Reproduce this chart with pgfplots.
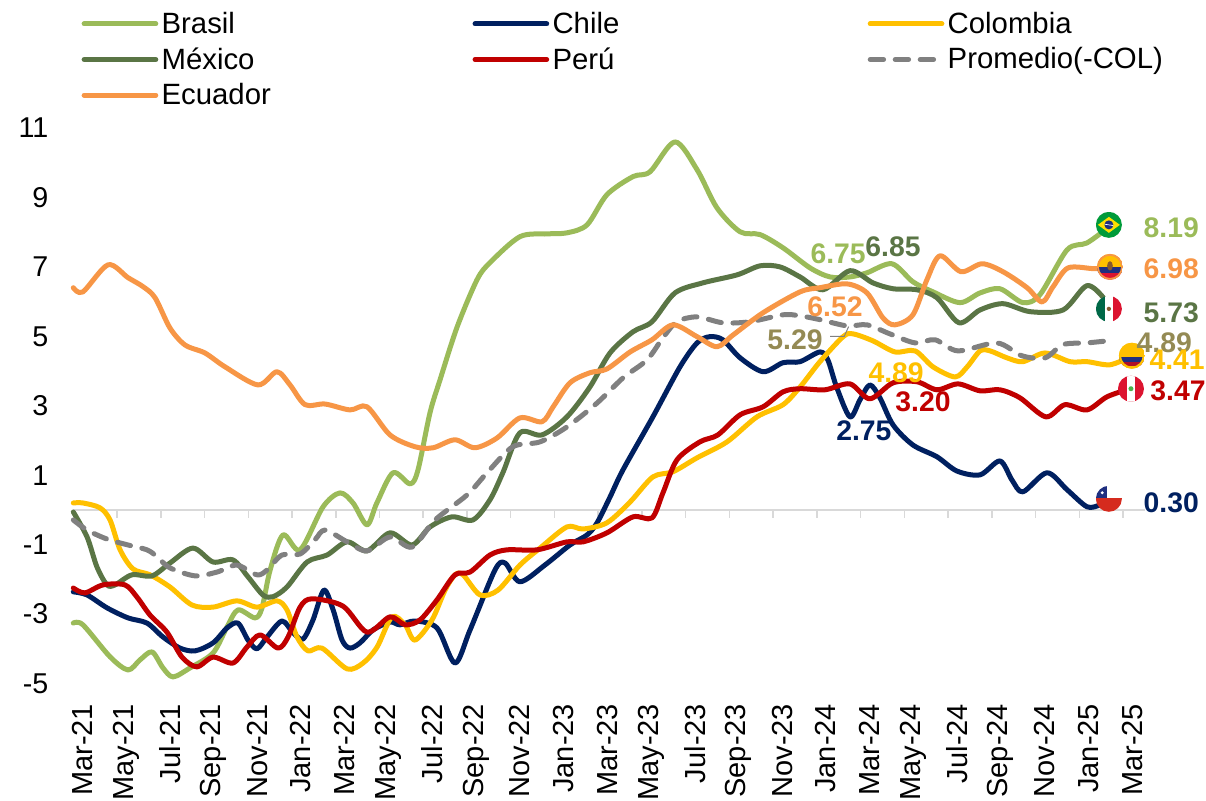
\documentclass[border=0pt]{standalone}
\usepackage{pgfplots}
\pgfplotsset{compat=1.18}
\usepackage{fontspec}
\setmainfont{Liberation Sans}
\definecolor{cBR}{HTML}{9BBB59}
\definecolor{cMX}{HTML}{5A7545}
\definecolor{cEC}{HTML}{F79646}
\definecolor{cCL}{HTML}{002060}
\definecolor{cPE}{HTML}{C00000}
\definecolor{cCO}{HTML}{FFC000}
\definecolor{cAV}{HTML}{808080}
\definecolor{cAVt}{HTML}{948A54}
\definecolor{cAx}{HTML}{D9D9D9}
\definecolor{fGreen}{HTML}{009B3A}
\definecolor{fYellow}{HTML}{FEDF00}
\definecolor{fBlue}{HTML}{1F2F80}
\definecolor{fRed}{HTML}{DC1430}
\definecolor{fMex}{HTML}{006847}
\definecolor{fChile}{HTML}{D52B1E}
\newcommand{\lblfont}{\fontsize{17}{20}\selectfont\bfseries}
\newcommand{\lbl}[4]{\node[text=#1,font=\lblfont,inner sep=0pt] at (axis cs:#2,#3) {#4};}
% flag: drawn after the axis, round a named point, clipped to a circle
\newcommand{\flag}[2]{\begin{scope}[shift={(#1)}]
  \begin{scope}\clip (0pt,0pt) circle (7.8pt); #2 \end{scope}\end{scope}}
\pgfplotsset{base/.style={
  at={(43.98pt,69.9pt)},anchor=south west,scale only axis,
  width=643pt,height=333.3pt,
  xmin=0,xmax=49,ymin=-5,ymax=11,clip=false}}
\begin{document}
\begin{tikzpicture}
\useasboundingbox (0,0) rectangle (723.6pt,480pt);
% zero line with its ticks
\begin{axis}[base,axis x line=middle,axis y line=none,
  xtick={0,2,...,48},xticklabels={},ytick=\empty,
  axis line style={draw=cAx,line width=0.9pt,-},
  x tick style={draw=cAx,line width=0.9pt,yshift=-2.4pt},
  tick align=center,major tick length=4.8pt]
\end{axis}
\begin{axis}[base,
  axis line style={draw=none},tick style={draw=none},major tick length=0pt,
  axis x line*=bottom,axis y line*=left,
  xtick={0,2,...,48},
  xticklabels={Mar-21,May-21,Jul-21,Sep-21,Nov-21,Jan-22,Mar-22,May-22,Jul-22,Sep-22,Nov-22,Jan-23,Mar-23,May-23,Jul-23,Sep-23,Nov-23,Jan-24,Mar-24,May-24,Jul-24,Sep-24,Nov-24,Jan-25,Mar-25},
  xticklabel style={font=\fontsize{17.4}{20}\selectfont,rotate=90,anchor=east,xshift=-8.8pt,yshift=-5.4pt},
  ytick={-5,-3,...,11},
  yticklabel style={font=\fontsize{17.2}{20}\selectfont,/pgf/number format/assume math mode=true,anchor=east,xshift=-11.4pt},
  legend columns=3,
  legend cell align=left,
  legend image code/.code={\draw[#1,line cap=round] (0,0) -- (43pt,0);},
  legend style={draw=none,fill=none,font=\fontsize{17.6}{20}\selectfont,
    at={(axis description cs:0.0,1.0)},anchor=south west,xshift=5pt,yshift=10.6pt,
    inner sep=0pt,outer sep=0pt,row sep=3pt,
    /tikz/column 2/.style={column sep=119pt},
    /tikz/column 4/.style={column sep=147pt}},
  every axis plot/.append style={line width=3pt,smooth,tension=0.5,line join=round,line cap=round}]

\addplot[cBR] coordinates {(0,-3.26)(.44,-3.31)(1.68,-4.23)(2.5,-4.61)(3.05,-4.32)(3.6,-4.09)(4.1,-4.55)(4.56,-4.81)(5.34,-4.55)(6.39,-4.12)(7.03,-3.37)(7.53,-2.88)(8.31,-3.11)(8.63,-2.82)(9,-1.73)(9.59,-.72)(10.37,-1.15)(11.42,.09)(12.19,.49)(12.79,.2)(13.43,-.43)(13.88,.2)(14.62,1.07)(15.4,.75)(15.76,1.15)(16.31,2.8)(16.77,3.75)(17.55,5.27)(18.46,6.63)(19.05,7.12)(20.42,7.87)(21.66,7.95)(22.57,7.98)(23.49,8.21)(24.4,9.08)(25.59,9.6)(26.37,9.74)(27.51,10.6)(28.52,9.8)(29.43,8.7)(30.49,8.01)(31.4,7.93)(32.45,7.55)(33.69,6.97)(34.6,6.71)(35.51,6.71)(36.29,6.83)(37.43,7.09)(38.39,6.57)(39.31,6.28)(40.54,5.97)(41.46,6.25)(42.37,6.37)(43.42,5.97)(44.2,6.2)(45.44,7.49)(46.35,7.69)(47.31,8.13)};
\addlegendentry{Brasil}

\addplot[cCL] coordinates {(0,-2.36)(.63,-2.45)(1.54,-2.82)(2.5,-3.11)(3.37,-3.26)(4.1,-3.66)(4.88,-3.98)(5.57,-4.06)(6.39,-3.83)(7.03,-3.4)(7.53,-3.26)(7.99,-3.75)(8.4,-4)(8.86,-3.66)(9.54,-3.2)(10.05,-3.54)(10.5,-3.72)(10.96,-3.17)(11.46,-2.31)(11.88,-2.88)(12.29,-3.75)(12.65,-3.98)(13.11,-3.83)(13.7,-3.46)(14.48,-3.23)(14.94,-3.31)(15.62,-3.2)(16.63,-3.4)(17.45,-4.41)(18.14,-3.46)(19.28,-1.73)(19.74,-1.53)(20.42,-2.07)(21.56,-1.59)(22.71,-1.01)(23.49,-.72)(23.95,-.37)(24.54,.37)(25.13,1.15)(26.5,2.68)(27.74,4.12)(28.52,4.81)(29.1,4.99)(29.7,4.9)(30.49,4.38)(31.54,3.98)(32.45,4.24)(33.23,4.27)(34.14,4.55)(34.5,4.32)(34.9,3.54)(35.51,2.68)(35.97,3.17)(36.42,3.6)(36.88,3.23)(37.48,2.45)(38.39,1.87)(39.49,1.53)(40.4,1.12)(41.46,1.01)(42.37,1.41)(42.92,.86)(43.42,.52)(44.52,1.07)(45.44,.58)(46.35,.09)(46.95,.14)(47.31,.2)};
\addlegendentry{Chile}

\addplot[cCO] coordinates {(0,.2)(.44,.2)(1.22,.06)(1.68,-.29)(2.14,-1.15)(2.73,-1.7)(3.51,-1.87)(4.42,-2.22)(5.43,-2.74)(6.39,-2.8)(7.48,-2.62)(8.4,-2.8)(9.31,-2.62)(9.77,-2.88)(10.23,-3.66)(10.73,-4.06)(11.37,-3.98)(12.52,-4.58)(13.25,-4.41)(13.89,-3.95)(14.57,-3.08)(15.17,-3.31)(15.62,-3.75)(16.4,-3.17)(17,-2.31)(17.45,-1.87)(17.82,-1.87)(18.6,-2.45)(19.42,-2.31)(20.42,-1.59)(21.34,-1.1)(22.57,-.49)(23.31,-.55)(24.4,-.37)(25.46,.23)(26.5,.95)(27.42,1.1)(28.52,1.5)(29.89,1.96)(31.26,2.68)(32.45,3.03)(33.23,3.54)(34.14,4.27)(35.2,4.99)(35.65,5.07)(36.56,4.87)(37.57,4.55)(38.49,4.58)(39.31,4.12)(40.32,3.83)(40.87,4.12)(41.46,4.58)(41.92,4.58)(42.69,4.38)(43.42,4.27)(44.43,4.52)(45.57,4.27)(46.35,4.27)(47.4,4.18)(48.32,4.41)};
\addlegendentry{Colombia}

\addplot[cMX] coordinates {(0,-.06)(.63,-.78)(1.08,-1.64)(1.54,-2.16)(1.91,-2.16)(2.68,-1.87)(3.6,-1.9)(4.42,-1.53)(5.47,-1.1)(6.39,-1.5)(7.3,-1.44)(7.99,-1.93)(8.67,-2.45)(9.13,-2.5)(9.77,-2.22)(10.69,-1.5)(11.6,-1.3)(12.52,-.92)(13.43,-1.18)(14.48,-.66)(15.49,-1.01)(16.31,-.49)(17.31,-.2)(18.27,-.29)(19.05,.29)(19.64,1.07)(20.42,2.22)(21.43,2.16)(22.57,2.68)(23.62,3.54)(24.54,4.52)(25.59,5.13)(26.46,5.42)(27.51,6.25)(28.79,6.54)(30.35,6.77)(31.4,7.03)(32.31,7)(33.23,6.71)(34.28,6.34)(35.51,6.89)(36.56,6.54)(37.48,6.37)(38.58,6.34)(39.49,6.11)(40.5,5.39)(41.46,5.76)(42.51,5.94)(43.75,5.71)(45.26,5.76)(46.35,6.46)(47.18,6.05)(47.31,5.73)};
\addlegendentry{México}

\addplot[cPE] coordinates {(0,-2.25)(.53,-2.39)(1.36,-2.16)(2.36,-2.16)(2.91,-2.51)(3.51,-3.03)(4.28,-3.52)(4.97,-4.24)(5.65,-4.52)(6.39,-4.24)(7.3,-4.41)(7.94,-3.95)(8.54,-3.6)(9.36,-3.98)(9.82,-3.66)(10.37,-2.8)(10.91,-2.56)(12.33,-2.77)(13.43,-3.52)(14.48,-3.08)(15.17,-3.31)(15.85,-3.17)(16.63,-2.59)(17.45,-1.87)(18.14,-1.79)(19.05,-1.3)(19.83,-1.15)(21.2,-1.15)(22.57,-.92)(23.31,-.92)(24.4,-.66)(25.59,-.2)(26.46,-.23)(26.96,.49)(27.6,1.44)(28.65,1.96)(29.47,2.16)(30.49,2.74)(31.54,2.97)(32.45,3.4)(33.23,3.49)(34.37,3.46)(35.51,3.63)(36.42,3.2)(37.48,3.66)(38.58,3.69)(39.49,3.46)(40.45,3.63)(41.46,3.43)(42.37,3.46)(43.28,3.23)(44.47,2.68)(45.34,3.03)(46.35,2.88)(47.27,3.26)(48.32,3.49)};
\addlegendentry{Perú}

\addplot[cAV,dash pattern=on 8pt off 7pt] coordinates {(0,-.29)(.63,-.58)(1.54,-.84)(2.5,-1.01)(3.37,-1.15)(3.83,-1.35)(4.42,-1.67)(5.57,-1.9)(6.57,-1.79)(7.48,-1.59)(8.4,-1.87)(8.86,-1.73)(9.54,-1.3)(10.37,-1.27)(11.05,-.86)(11.51,-.58)(12.52,-.92)(13.43,-1.18)(14.48,-.78)(15.49,-1.07)(16.54,-.29)(18,.43)(18.96,1.1)(20.1,1.82)(21.34,1.96)(22.57,2.39)(23.95,3.08)(25.13,3.8)(26.23,4.32)(26.96,4.96)(27.6,5.42)(28.52,5.56)(29.7,5.39)(30.94,5.42)(32.45,5.62)(33.23,5.59)(34.14,5.48)(35.38,5.3)(36.29,5.33)(37.34,5.07)(38.49,4.81)(39.4,4.9)(40.45,4.58)(42.23,4.81)(43.37,4.44)(44.43,4.38)(45.25,4.76)(46.35,4.81)(47.31,4.87)};
\addlegendentry{Promedio(-COL)}

\addplot[cEC] coordinates {(0,6.4)(.44,6.28)(1.59,7.06)(2.5,6.69)(3.19,6.43)(3.74,6.11)(4.42,5.24)(5.11,4.75)(6.02,4.52)(6.94,4.12)(8.44,3.6)(9.31,3.98)(9.91,3.6)(10.6,3.03)(11.51,3.05)(12.65,2.88)(13.43,2.97)(14.48,2.16)(15.62,1.82)(16.45,1.79)(17.45,2.02)(18.36,1.79)(19.37,2.07)(20.42,2.65)(21.43,2.54)(21.94,2.97)(22.71,3.66)(23.62,3.95)(24.4,4.06)(25.46,4.55)(26.46,4.9)(27.42,5.33)(28.52,4.99)(29.43,4.7)(30.17,5.04)(31.54,5.68)(33.23,6.28)(34.14,6.4)(35.38,6.51)(36.29,6.25)(37.02,5.53)(37.57,5.33)(38.39,5.62)(39.03,6.63)(39.63,7.32)(40.59,6.86)(41.55,7.09)(42.51,6.86)(43.61,6.4)(44.3,5.99)(44.8,6.43)(45.48,6.97)(46.62,6.95)(47.27,6.95)};
\addlegendentry{Ecuador}

% leader line of the 5.29 label
\draw[cAV,line width=0.6pt] (axis cs:34.6,5.0) -- (axis cs:35.25,5.0) -- (axis cs:35.45,5.28);

\coordinate (fBR) at (axis cs:47.35,8.21);
\coordinate (fEC) at (axis cs:47.4,7.0);
\coordinate (fMX) at (axis cs:47.35,5.79);
\coordinate (fCO) at (axis cs:48.4,4.44);
\coordinate (fPE) at (axis cs:48.36,3.49);
\coordinate (fCL) at (axis cs:47.35,.32);
\coordinate (tAV) at (axis cs:49.88,4.81);
\coordinate (tCO) at (axis cs:50.47,4.32);

\lbl{cBR}{50.2}{8.13}{8.19}
\lbl{cEC}{50.2}{6.95}{6.98}
\lbl{cMX}{50.2}{5.68}{5.73}
\lbl{cPE}{50.51}{3.43}{3.47}
\lbl{cCL}{50.2}{.2}{0.30}
\lbl{cBR}{34.97}{7.38}{6.75}
\lbl{cMX}{37.48}{7.58}{6.85}
\lbl{cEC}{34.83}{5.85}{6.52}
\lbl{cAVt}{33.0}{4.9}{5.29}
\lbl{cCO}{37.62}{3.95}{4.89}
\lbl{cPE}{38.85}{3.11}{3.20}
\lbl{cCL}{36.15}{2.28}{2.75}
\end{axis}

\flag{fBR}{\fill[fGreen] (-8pt,-8pt) rectangle (8pt,8pt);
  \fill[fYellow] (-6.6pt,0pt) -- (0pt,4.8pt) -- (6.6pt,0pt) -- (0pt,-4.8pt) -- cycle;
  \fill[fBlue] (0pt,0pt) circle (2.7pt);
  \draw[white,line width=0.4pt] (-2.6pt,0.4pt) -- (2.6pt,-0.4pt);}
\flag{fEC}{\fill[cCO] (-8pt,0pt) rectangle (8pt,8pt);
  \fill[fBlue] (-8pt,-3.6pt) rectangle (8pt,0pt);
  \fill[fRed] (-8pt,-8pt) rectangle (8pt,-3.6pt);
  \fill[brown!70!black] (0pt,0.6pt) ellipse (1.7pt and 2.8pt);
  \draw[cEC,line width=1.2pt] (0pt,0pt) circle (7.3pt);}
\flag{fMX}{\fill[fMex] (-8pt,-8pt) rectangle (-2.6pt,8pt);
  \fill[white] (-2.6pt,-8pt) rectangle (2.6pt,8pt);
  \fill[fRed] (2.6pt,-8pt) rectangle (8pt,8pt);
  \fill[brown!70!black] (0pt,0pt) circle (1.3pt);}
\flag{fCO}{\fill[cCO] (-8pt,-1pt) rectangle (8pt,8pt);
  \fill[fBlue] (-8pt,-3.6pt) rectangle (8pt,-1pt);
  \fill[fRed!80!black] (-8pt,-6pt) rectangle (8pt,-3.6pt);
  \fill[cCO] (-8pt,-8pt) rectangle (8pt,-6pt);
  \draw[cCO,line width=1.4pt] (0pt,0pt) circle (7.2pt);}
\flag{fPE}{\fill[fRed] (-8pt,-8pt) rectangle (8pt,8pt);
  \fill[white] (-2.6pt,-8pt) rectangle (2.6pt,8pt);
  \fill[green!40!gray] (0pt,0pt) circle (1.5pt);}
\flag{fCL}{\fill[white] (-8pt,0pt) rectangle (8pt,8pt);
  \fill[fBlue] (-8pt,0.4pt) rectangle (-1pt,8pt);
  \fill[white] (-4pt,3.6pt) circle (1pt);
  \fill[fChile] (-8pt,-8pt) rectangle (8pt,0.4pt);}

% drawn over the flags
\node[text=cAVt,font=\lblfont,inner sep=0pt] at (tAV) {4.89};
\node[text=cCO,font=\lblfont,inner sep=0pt] at (tCO) {4.41};
\end{tikzpicture}
\end{document}
